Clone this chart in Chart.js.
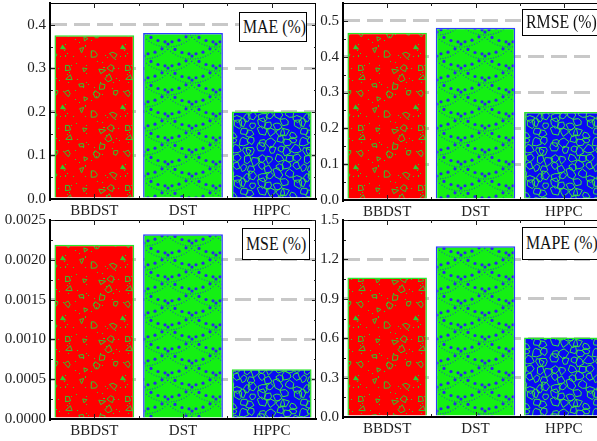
<!DOCTYPE html>
<html>
<head>
<meta charset="utf-8">
<script src="https://cdn.jsdelivr.net/npm/chart.js@4/dist/chart.umd.min.js"></script>
<style>
  body { margin: 0; background: #fff; overflow: hidden; }
  #lienzo { position: relative; width: 597px; height: 441px; overflow: hidden; }
  canvas { position: absolute; }
  .caja {
    position: absolute; background: #fff; border: 1px solid #000; box-sizing: border-box;
    font-family: 'Liberation Serif', serif; font-size: 18px; color: #111;
    display: flex; align-items: center; white-space: nowrap; padding-left: 3px;
  }
  .caja span { display: inline-block; transform: scaleX(0.88); transform-origin: left center; }
</style>
</head>
<body>
<div id="lienzo">
  <canvas id="gMAE" width="320" height="221" style="left:0;top:0"></canvas>
  <canvas id="gRMSE" width="319" height="222" style="left:293px;top:0"></canvas>
  <canvas id="gMSE" width="320" height="230" style="left:0;top:211px"></canvas>
  <canvas id="gMAPE" width="319" height="228" style="left:293px;top:211px"></canvas>
  <div class="caja" style="left:239px;top:12px;width:68px;height:30px"><span>MAE (%)</span></div>
  <div class="caja" style="left:522px;top:9px;width:90px;height:27px"><span>RMSE (%)</span></div>
  <div class="caja" style="left:242px;top:228px;width:68px;height:32px"><span>MSE (%)</span></div>
  <div class="caja" style="left:522px;top:227px;width:90px;height:33px"><span>MAPE (%)</span></div>
</div>
<script>
// Datos
const categorias = ['BBDST', 'DST', 'HPPC'];
const valoresMAE = [0.376, 0.381, 0.201];
const valoresRMSE = [0.467, 0.481, 0.246];
const valoresMSE = [0.00219, 0.00232, 0.000625];
const valoresMAPE = [1.063, 1.301, 0.605];

// generador fijo para las texturas (no para los datos)
function generador(semilla) {
    let a = semilla >>> 0;
    return () => {
        a = (a + 0x6D2B79F5) >>> 0;
        let t = a;
        t = Math.imul(t ^ (t >>> 15), t | 1);
        t ^= t + Math.imul(t ^ (t >>> 7), t | 61);
        return ((t ^ (t >>> 14)) >>> 0) / 4294967296;
    };
}

function patronPoligonos(tam, fondo, trazo, cantidad, lados, radio, puntos, semilla) {
    const c = document.createElement('canvas');
    c.width = tam; c.height = tam;
    const g = c.getContext('2d');
    g.fillStyle = fondo;
    g.fillRect(0, 0, tam, tam);
    const rnd = generador(semilla);
    const formas = [];
    // rejilla con desplazamiento para repartir las figuras
    const lado = Math.ceil(Math.sqrt(cantidad));
    const celda = tam / lado;
    for (let i = 0; i < lado * lado; i++) {
        const cx = (i % lado + 0.15 + rnd() * 0.7) * celda;
        const cy = (Math.floor(i / lado) + 0.15 + rnd() * 0.7) * celda;
        const r = radio[0] + rnd() * (radio[1] - radio[0]);
        const n = lados[0] + Math.floor(rnd() * (lados[1] - lados[0] + 1));
        const rot = rnd() * Math.PI * 2;
        const pts = [];
        for (let k = 0; k < n; k++) {
            const a = rot + k * 2 * Math.PI / n + (rnd() - 0.5) * 0.7;
            const rr = r * (0.7 + rnd() * 0.5);
            pts.push([Math.cos(a) * rr, Math.sin(a) * rr]);
        }
        formas.push({ cx, cy, pts, lleno: n === 3 && rnd() < 0.3 });
    }
    g.strokeStyle = trazo;
    g.fillStyle = trazo;
    g.lineWidth = 1;
    [-tam, 0, tam].forEach(dx => {
        [-tam, 0, tam].forEach(dy => {
            formas.forEach(f => {
                g.beginPath();
                f.pts.forEach((p, k) => {
                    const x = f.cx + dx + p[0], y = f.cy + dy + p[1];
                    if (k === 0) g.moveTo(x, y); else g.lineTo(x, y);
                });
                g.closePath();
                if (f.lleno) g.fill(); else g.stroke();
            });
        });
    });
    for (let i = 0; i < puntos; i++) {
        g.fillRect(Math.floor(rnd() * tam), Math.floor(rnd() * tam), 1, 1);
    }
    return g.createPattern(c, 'repeat');
}

// DST: arcos de puntos azules sobre verde
function patronVerde() {
    const w = 48, h = 24;
    const c = document.createElement('canvas');
    c.width = w; c.height = h;
    const g = c.getContext('2d');
    g.fillStyle = '#14f014';
    g.fillRect(0, 0, w, h);
    g.fillStyle = '#2a2ae6';
    const R = 34;
    for (let j = -3; j <= 5; j++) {
        for (let i = -1; i <= 2; i++) {
            const cx = i * w + (Math.abs(j) % 2 ? 24 : 0);
            const cy = j * 12 - 28;
            // puntos pequeños
            g.globalAlpha = 0.8;
            for (let x = cx - 24; x <= cx + 24; x += 2.5) {
                const y = cy + Math.sqrt(R * R - (x - cx) * (x - cx));
                g.beginPath(); g.arc(x, y + 5, 0.6, 0, Math.PI * 2); g.fill();
            }
            g.globalAlpha = 1;
            // puntos grandes
            for (let x = cx - 24; x < cx + 24; x += 7) {
                const y = cy + Math.sqrt(R * R - (x - cx) * (x - cx));
                g.beginPath(); g.arc(x, y, 1.6, 0, Math.PI * 2); g.fill();
            }
        }
    }
    return g.createPattern(c, 'repeat');
}

const patronRojo = patronPoligonos(60, '#ff0000', '#30c830', 16, [3, 5], [2.5, 4.3], 50, 11);
const patronAzul = patronPoligonos(60, '#0a0af5', '#3ce63c', 49, [5, 6], [3.6, 5.2], 0, 29);
const patronDST = patronVerde();

const fuenteEje = { family: "'Liberation Serif', serif", size: 15 };

// Marco superior/derecho y marcas hacia dentro
const pluginMarco = {
    id: 'marco',
    afterDatasetsDraw(chart) {
        const { ctx, chartArea: a, scales: { x, y } } = chart;
        const linea = (x1, y1, x2, y2) => { ctx.beginPath(); ctx.moveTo(x1, y1); ctx.lineTo(x2, y2); ctx.stroke(); };
        ctx.save();
        ctx.strokeStyle = '#000';
        ctx.lineWidth = 1;
        linea(a.left, a.top + 0.5, a.right, a.top + 0.5);
        linea(a.right - 0.5, a.top, a.right - 0.5, a.bottom);
        ctx.strokeStyle = '#222';
        const marcas = y.ticks;
        marcas.forEach((t, i) => {
            const py = Math.round(y.getPixelForValue(t.value)) + 0.5;
            linea(a.left, py, a.left + 5, py);
            linea(a.right - 4, py, a.right, py);
            if (i < marcas.length - 1) {
                const pm = Math.round(y.getPixelForValue((t.value + marcas[i + 1].value) / 2)) + 0.5;
                linea(a.left, pm, a.left + 3, pm);
                linea(a.right - 2, pm, a.right, pm);
            }
        });
        for (let i = 0; i < categorias.length; i++) {
            const px = Math.round(x.getPixelForValue(i)) + 0.5;
            linea(px, a.bottom, px, a.bottom - 5);
            linea(px, a.top, px, a.top + 5);
        }
        for (let k = 1; k < categorias.length; k++) {
            const px = Math.round(a.left + k * a.width / categorias.length) + 0.5;
            linea(px, a.bottom, px, a.bottom - 3);
            linea(px, a.top, px, a.top + 3);
        }
        ctx.restore();
    }
};

function sinRelleno(s) {
    s.paddingLeft = 0; s.paddingRight = 0; s.paddingTop = 0; s.paddingBottom = 0;
}

function crearPanel(idCanvas, valores, maxY, paso, decimales, rellenoArriba) {
    const ctx = document.getElementById(idCanvas).getContext('2d');
    return new Chart(ctx, {
        type: 'bar',
        data: {
            labels: categorias,
            datasets: [{
                data: valores,
                backgroundColor: [patronRojo, patronDST, patronAzul],
                borderColor: ['#28e628', '#2a3cff', '#28e628'],
                borderWidth: 1.5,
                barPercentage: 0.9,
                categoryPercentage: 1.0
            }]
        },
        options: {
            responsive: false,
            animation: false,
            devicePixelRatio: 1,
            layout: { padding: { top: rellenoArriba, right: 4, left: 0, bottom: 0 } },
            plugins: { legend: { display: false }, tooltip: { enabled: false } },
            scales: {
                x: {
                    grid: { display: false, drawTicks: false },
                    border: { color: '#000', width: 2, z: 1 },
                    ticks: { font: fuenteEje, color: '#222', padding: 3, maxRotation: 0 },
                    afterFit: s => { s.height = 22; sinRelleno(s); }
                },
                y: {
                    min: 0,
                    max: maxY,
                    ticks: {
                        stepSize: paso,
                        includeBounds: false,
                        font: fuenteEje,
                        color: '#222',
                        padding: 4,
                        callback: v => Number(v).toFixed(decimales)
                    },
                    grid: {
                        color: c => {
                            const v = c.tick ? c.tick.value : 0;
                            return (v > maxY * 0.01 && v < maxY * 0.99) ? '#c8c8c8' : 'rgba(0,0,0,0)';
                        },
                        lineWidth: 3,
                        drawTicks: false
                    },
                    border: { color: '#000', width: 2, dash: [16, 7], z: 1 },
                    afterFit: s => { s.width = 50; sinRelleno(s); }
                }
            }
        },
        plugins: [pluginMarco]
    });
}

crearPanel('gMAE', valoresMAE, 0.45, 0.1, 1, 3);
crearPanel('gRMSE', valoresRMSE, 0.55, 0.1, 1, 3);
crearPanel('gMSE', valoresMSE, 0.0025, 0.0005, 4, 9);
crearPanel('gMAPE', valoresMAPE, 1.5, 0.3, 1, 9);
</script>
</body>
</html>
